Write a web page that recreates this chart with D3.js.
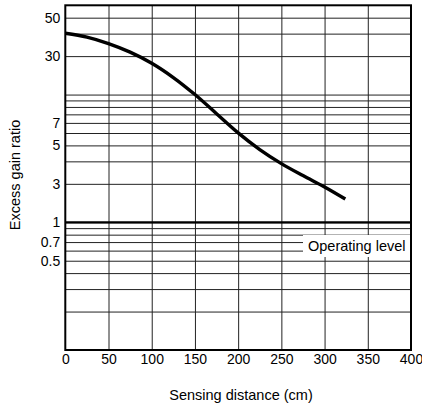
<!DOCTYPE html>
<html>
<head>
<meta charset="utf-8">
<script src="https://cdn.jsdelivr.net/npm/d3@7"></script>
<style>
  html, body { margin: 0; padding: 0; background: #fff; }
  svg { display: block; font-family: "Liberation Sans", Arial, Helvetica, sans-serif; }
  .grid line { stroke: #222; stroke-width: 1; }
  .grid path, .labels path { display: none; }
</style>
</head>
<body>
<div class="container"></div>
<script>
// DATA
// excess gain ratio, against sensing distance in cm
const distance = [0, 25, 50, 75, 100, 125, 150, 175, 200, 225, 250, 275, 300, 324];
const ratio = [30.2, 28.2, 25.1, 21.5, 17.6, 13.6, 10.0, 7.08, 5.01, 3.71, 2.88, 2.32, 1.89, 1.52];

// x axis ticks
const xTicks = [0, 50, 100, 150, 200, 250, 300, 350, 400];
// log grid lines (the outer two are the frame)
const yGrid = [0.2, 0.3, 0.4, 0.5, 0.6, 0.7, 0.8, 0.9, 1, 2, 3, 4, 5, 6, 7, 8, 9, 10, 20, 30, 40];
// printed labels and the grid lines they sit on in the original
const yLabelAt = [40, 20, 6, 4, 2, 1, 0.7, 0.5];
const yLabels = ["50", "30", "7", "5", "3", "1", "0.7", "0.5"];
const operatingLevel = 1;

// SETUP
const W = 422, H = 408;
const plotLeft = 65.3, plotRight = 411, plotTop = 5.3, plotBottom = 350;

const svg = d3.select(".container")
    .append("svg")
    .attr("width", W)
    .attr("height", H);

const xScale = d3.scaleLinear()
    .domain([0, 400])
    .range([plotLeft, plotRight]);

const yScale = d3.scaleLog()
    .domain([0.1, 50])
    .range([plotBottom, plotTop]);

// vertical grid
svg.append("g")
    .attr("class", "grid")
    .attr("transform", `translate(0,${plotBottom})`)
    .call(d3.axisBottom(xScale)
        .tickValues(xTicks.slice(1, -1))
        .tickSize(-(plotBottom - plotTop))
        .tickFormat(""));

// horizontal grid
svg.append("g")
    .attr("class", "grid")
    .attr("transform", `translate(${plotLeft},0)`)
    .call(d3.axisLeft(yScale)
        .tickValues(yGrid)
        .tickSize(-(plotRight - plotLeft))
        .tickFormat(""));

// operating level line, heavier
svg.append("line")
    .attr("x1", plotLeft).attr("x2", plotRight)
    .attr("y1", yScale(operatingLevel)).attr("y2", yScale(operatingLevel))
    .attr("stroke", "#000")
    .attr("stroke-width", 2.2);

// label box blanks out the grid behind it
svg.append("rect")
    .attr("x", 303)
    .attr("y", 235)
    .attr("width", plotRight - 303)
    .attr("height", 22)
    .attr("fill", "#fff");

svg.append("text")
    .attr("x", 308)
    .attr("y", 250.5)
    .attr("font-size", 14.5)
    .text("Operating level");

// frame
svg.append("rect")
    .attr("x", plotLeft)
    .attr("y", plotTop)
    .attr("width", plotRight - plotLeft)
    .attr("height", plotBottom - plotTop)
    .attr("fill", "none")
    .attr("stroke", "#000")
    .attr("stroke-width", 2);

// curve
const line = d3.line()
    .x((d, i) => xScale(distance[i]))
    .y(d => yScale(d))
    .curve(d3.curveCatmullRom.alpha(0.5));

svg.append("path")
    .datum(ratio)
    .attr("d", line)
    .attr("fill", "none")
    .attr("stroke", "#000")
    .attr("stroke-width", 3.4)
    .attr("stroke-linecap", "butt");

// tick labels
const xAxis = svg.append("g")
    .attr("class", "labels")
    .attr("transform", `translate(0,${plotBottom})`)
    .call(d3.axisBottom(xScale)
        .tickValues(xTicks)
        .tickSize(0)
        .tickPadding(4));
xAxis.selectAll("text")
    .attr("font-size", 14)
    .attr("font-family", null)
    .attr("fill", "#000");

const yLabelFormat = d => yLabels[yLabelAt.indexOf(d)];
const yAxis = svg.append("g")
    .attr("class", "labels")
    .attr("transform", `translate(${plotLeft},0)`)
    .call(d3.axisLeft(yScale)
        .tickValues(yLabelAt)
        .tickSize(0)
        .tickPadding(5)
        .tickFormat(yLabelFormat));
yAxis.selectAll("text")
    .attr("font-size", 14)
    .attr("font-family", null)
    .attr("fill", "#000");

// axis titles
svg.append("text")
    .attr("x", 241)
    .attr("y", 400)
    .attr("text-anchor", "middle")
    .attr("font-size", 14.5)
    .text("Sensing distance (cm)");

svg.append("text")
    .attr("transform", "translate(20,175) rotate(-90)")
    .attr("text-anchor", "middle")
    .attr("font-size", 14.5)
    .text("Excess gain ratio");
</script>
</body>
</html>
